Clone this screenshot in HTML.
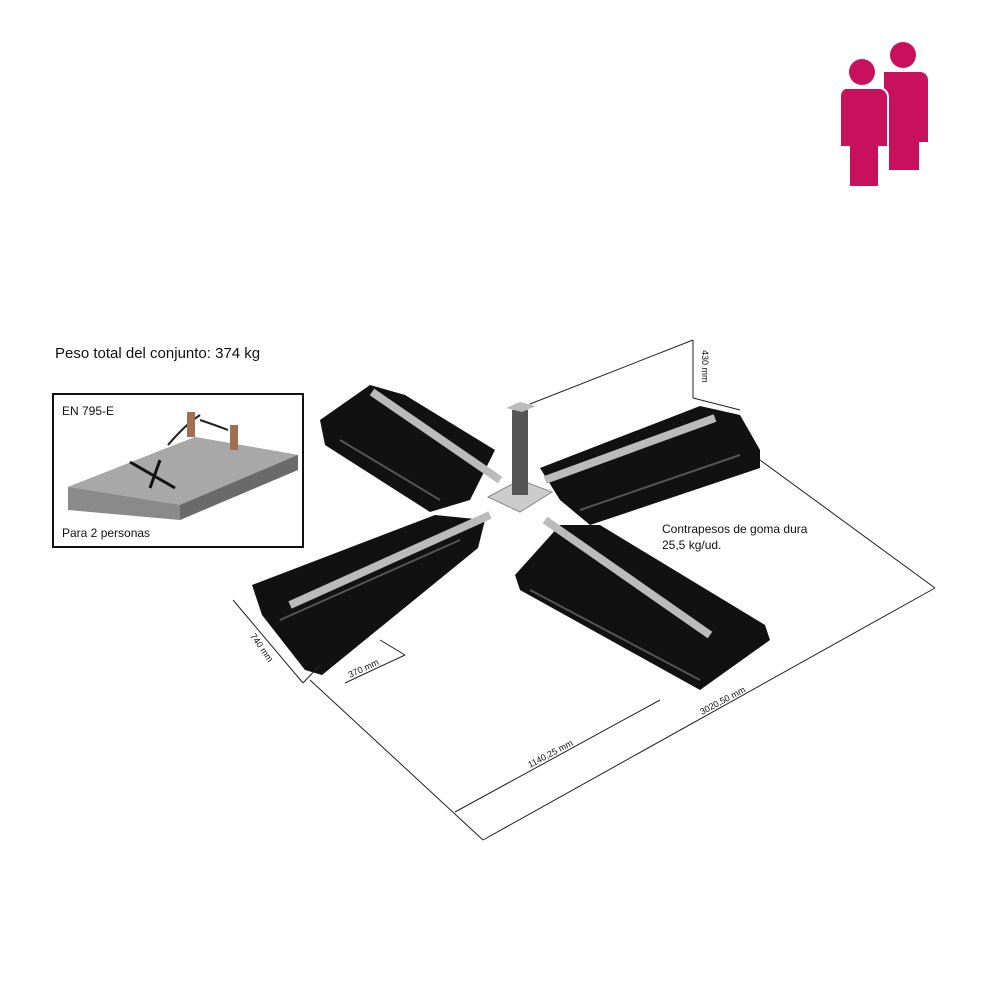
<!DOCTYPE html>
<html><head><meta charset="utf-8"><style>
html,body{margin:0;padding:0;background:#fff;}
svg{display:block;}
text{font-family:"Liberation Sans",sans-serif;fill:#111;}
</style></head><body>
<svg width="1000" height="1000" viewBox="0 0 1000 1000">
<g fill="#c8105c">
<circle cx="903" cy="55" r="13"/>
<path d="M884 72 h36 a8 8 0 0 1 8 8 v62 h-9 v28 h-30 v-60 h-5z"/>
<circle cx="862" cy="72" r="13"/>
<path d="M845 88 h34 a9 9 0 0 1 9 9 v50 h-9 v40 h-30 v-40 h-9 v-50 a9 9 0 0 1 5 -9z" stroke="#fff" stroke-width="2"/>
</g>
<text x="55" y="358" font-size="15">Peso total del conjunto: 374 kg</text>
<rect x="53" y="394" width="250" height="153" fill="#fff" stroke="#111" stroke-width="2"/>
<text x="62" y="415" font-size="12">EN 795-E</text>
<polygon points="68,487 195,437 298,455 298,468 180,520 68,510" fill="#8a8a8a"/>
<polygon points="68,487 195,437 298,455 180,505" fill="#a8a8a8"/>
<polygon points="180,505 298,455 298,470 180,520" fill="#6a6a6a"/>
<path d="M130 462 L175 488 M150 488 L160 460" stroke="#111" stroke-width="3"/>
<path d="M168 445 Q185 425 200 415 M200 420 Q215 425 228 430" stroke="#222" stroke-width="2" fill="none"/>
<rect x="187" y="412" width="8" height="25" fill="#a07050"/>
<rect x="230" y="425" width="8" height="25" fill="#a07050"/>
<text x="62" y="537" font-size="12">Para 2 personas</text>
<g fill="#111">
<polygon points="320,420 370,385 405,395 495,450 470,500 430,512 325,445"/>
<polygon points="540,468 700,406 740,415 760,450 760,468 590,525 560,500"/>
<polygon points="252,585 435,515 485,520 478,548 322,675 305,670 262,615"/>
<polygon points="515,575 560,525 600,525 765,625 770,640 700,690 520,590"/>
</g>
<g stroke="#555" stroke-width="2">
<line x1="340" y1="440" x2="440" y2="500"/>
<line x1="580" y1="510" x2="740" y2="455"/>
<line x1="280" y1="620" x2="460" y2="540"/>
<line x1="530" y1="590" x2="700" y2="680"/>
</g>
<g stroke="#bbb" stroke-width="8">
<line x1="372" y1="392" x2="500" y2="480"/>
<line x1="545" y1="480" x2="715" y2="418"/>
<line x1="290" y1="605" x2="490" y2="515"/>
<line x1="545" y1="520" x2="710" y2="635"/>
</g>
<polygon points="488,497 520,480 552,492 520,512" fill="#ccc" stroke="#888"/>
<rect x="512" y="410" width="16" height="85" fill="#555"/>
<polygon points="506,408 520,402 536,406 522,412" fill="#bbb"/>
<g stroke="#222" stroke-width="1" fill="none">
<line x1="530" y1="404" x2="693" y2="340"/>
<line x1="693" y1="340" x2="693" y2="398"/>
<line x1="740" y1="410" x2="693" y2="398"/>
<line x1="760" y1="460" x2="935" y2="588"/>
<line x1="483" y1="840" x2="935" y2="588"/>
<line x1="310" y1="680" x2="483" y2="840"/>
<line x1="455" y1="812" x2="660" y2="700"/>
<line x1="233" y1="600" x2="303" y2="683"/>
<line x1="303" y1="683" x2="320" y2="665"/>
<line x1="345" y1="683" x2="405" y2="655"/>
<line x1="380" y1="640" x2="405" y2="655"/>
</g>
<g font-size="9">
<text x="0" y="0" transform="translate(702,350) rotate(90)">430 mm</text>
<text x="0" y="0" transform="translate(250,636) rotate(55)">740 mm</text>
<text x="0" y="0" transform="translate(350,678) rotate(-25)">370 mm</text>
<text x="0" y="0" transform="translate(530,768) rotate(-28)">1140,25 mm</text>
<text x="0" y="0" transform="translate(702,715) rotate(-28)">3020,50 mm</text>
</g>
<text x="662" y="533" font-size="12">Contrapesos de goma dura</text>
<text x="662" y="549" font-size="12">25,5 kg/ud.</text>
</svg>
</body></html>
